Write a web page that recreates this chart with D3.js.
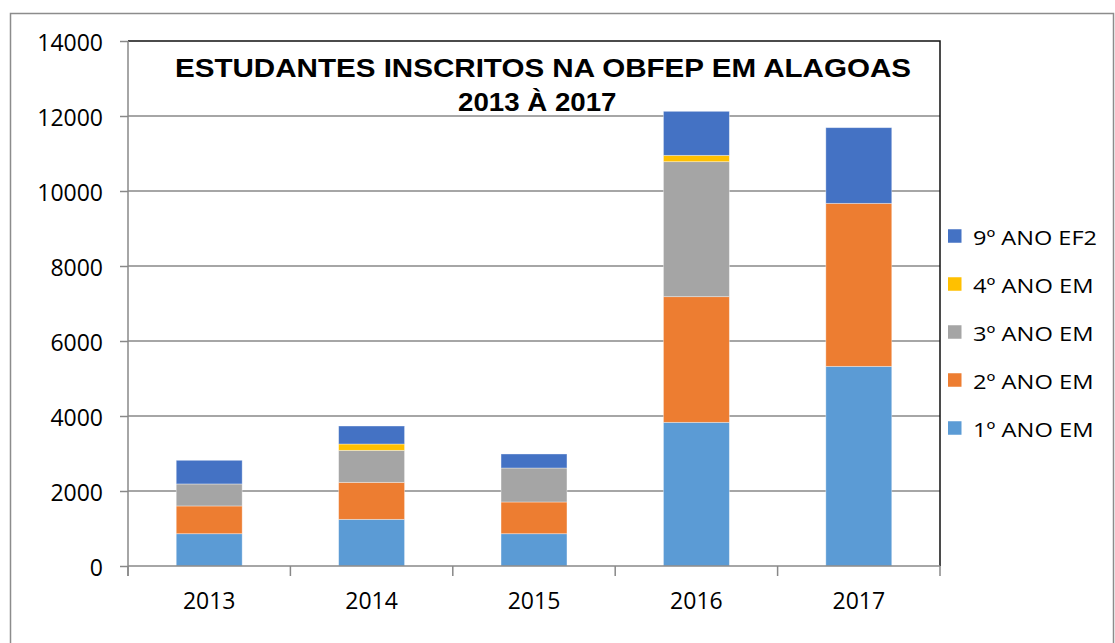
<!DOCTYPE html>
<html>
<head>
<meta charset="utf-8">
<script src="https://cdn.jsdelivr.net/npm/d3@7"></script>
<style>
  html, body { margin: 0; padding: 0; background: #fff; }
  svg { display: block; }
</style>
</head>
<body>
<svg id="chart" width="1115" height="643"></svg>
<script>
// ---- data ----
const categories = ["2013", "2014", "2015", "2016", "2017"];
const seriesNames = ["1º ANO EM", "2º ANO EM", "3º ANO EM", "4º ANO EM", "9º ANO EF2"];
const ano1EM = [861, 1244, 861, 3831, 5324];
const ano2EM = [740, 987, 846, 3351, 4347];
const ano3EM = [587, 853, 906, 3600, 0];
const ano4EM = [0, 169, 0, 169, 0];
const ano9EF2 = [631, 480, 374, 1174, 2018];
const seriesColors = ["#5B9BD5", "#ED7D31", "#A5A5A5", "#FFC000", "#4472C4"];
const yTicks = [0, 2000, 4000, 6000, 8000, 10000, 12000, 14000];
const titleLines = ["ESTUDANTES INSCRITOS NA OBFEP EM ALAGOAS", "2013 À 2017"];

// ---- build table ----
const seriesValues = [ano1EM, ano2EM, ano3EM, ano4EM, ano9EF2];
const table = categories.map((c, i) => {
  const row = { cat: c };
  seriesNames.forEach((s, j) => row[s] = seriesValues[j][i]);
  return row;
});
const stacked = d3.stack().keys(seriesNames)(table);

const svg = d3.select("#chart");
const plot = { left: 128, right: 940, top: 41, bottom: 566 };

// outer border
svg.append("rect").attr("x", 10.5).attr("y", 13.5).attr("width", 1103).attr("height", 640)
  .attr("fill", "none").attr("stroke", "#8c8c8c").attr("stroke-width", 1.5);

const x = d3.scaleBand().domain(categories).range([plot.left, plot.right])
  .paddingInner(0.594).paddingOuter(0.297);
const y = d3.scaleLinear().domain([0, 14000]).range([plot.bottom, plot.top]);

// gridlines
svg.append("g").selectAll("line").data(yTicks.filter(d => d > 0 && d < 14000)).join("line")
  .attr("x1", plot.left).attr("x2", plot.right)
  .attr("y1", d => y(d)).attr("y2", d => y(d))
  .attr("stroke", "#888").attr("stroke-width", 1.5);

// title (white background region, drawn before bars)
svg.append("text").attr("x", 175).attr("y", 76.7)
  .attr("font-family", "Liberation Sans, Arial, sans-serif").attr("font-weight", "bold")
  .attr("font-size", 26.5).attr("fill", "#000")
  .attr("textLength", 736).attr("lengthAdjust", "spacingAndGlyphs")
  .text(titleLines[0]);
svg.append("text").attr("x", 458).attr("y", 110.7)
  .attr("font-family", "Liberation Sans, Arial, sans-serif").attr("font-weight", "bold")
  .attr("font-size", 26.5).attr("fill", "#000")
  .attr("textLength", 158.5).attr("lengthAdjust", "spacingAndGlyphs")
  .text(titleLines[1]);

// bars
svg.append("g").selectAll("g").data(stacked).join("g")
  .attr("fill", (d, i) => seriesColors[i])
  .selectAll("rect").data(d => d).join("rect")
  .attr("x", d => x(d.data.cat))
  .attr("width", x.bandwidth())
  .attr("y", d => y(d[1]))
  .attr("height", d => y(d[0]) - y(d[1]))
  .attr("stroke", "#ffffff").attr("stroke-opacity", 0.45).attr("stroke-width", 0.8);

// plot border top/right (black)
svg.append("path")
  .attr("d", `M${plot.left},${plot.top}H${plot.right}V${plot.bottom}`)
  .attr("fill", "none").attr("stroke", "#111").attr("stroke-width", 1.5);

// y axis
const yAxis = d3.axisLeft(y).tickValues(yTicks).tickSize(8).tickPadding(17).tickFormat(d3.format("d"));
const gy = svg.append("g").attr("transform", `translate(${plot.left},0)`).call(yAxis);
gy.select(".domain").attr("d", `M0,${plot.top}V${plot.bottom + 10}`).attr("stroke", "#888").attr("stroke-width", 1.5);
gy.selectAll(".tick line").attr("stroke", "#888").attr("stroke-width", 1.5);
gy.selectAll(".tick text")
  .attr("font-family", "Open Sans, sans-serif").attr("font-size", 23).attr("fill", "#000")
  .attr("dy", "0.4em");

// x axis
const xAxis = d3.axisBottom(x).tickSize(0).tickPadding(27);
const gx = svg.append("g").attr("transform", `translate(0,${plot.bottom})`).call(xAxis);
gx.select(".domain").attr("d", `M${plot.left},0H${plot.right}`).attr("stroke", "#888").attr("stroke-width", 1.5);
gx.selectAll(".tick text")
  .attr("font-family", "Open Sans, sans-serif").attr("font-size", 23).attr("fill", "#000");
// boundary ticks between categories
const boundaries = d3.range(categories.length + 1).map(i => plot.left + i * x.step());
gx.append("g").selectAll("line").data(boundaries).join("line")
  .attr("x1", d => d).attr("x2", d => d).attr("y1", 0).attr("y2", 10)
  .attr("stroke", "#888").attr("stroke-width", 1.5);

// legend (top to bottom: reverse series order)
const legendOrder = d3.range(seriesNames.length).reverse();
const lg = svg.append("g").selectAll("g").data(legendOrder).join("g")
  .attr("transform", (d, i) => `translate(948,${236 + i * 48})`);
lg.append("rect").attr("x", 0).attr("y", -6.75).attr("width", 13.5).attr("height", 13.5)
  .attr("fill", d => seriesColors[d]);
lg.append("text").attr("x", 25).attr("y", 9)
  .attr("font-family", "Open Sans, sans-serif").attr("font-size", 20).attr("fill", "#000")
  .attr("textLength", d => seriesNames[d] === "9º ANO EF2" ? 124 : 120.5)
  .attr("lengthAdjust", "spacingAndGlyphs")
  .text(d => seriesNames[d]);
</script>
</body>
</html>
